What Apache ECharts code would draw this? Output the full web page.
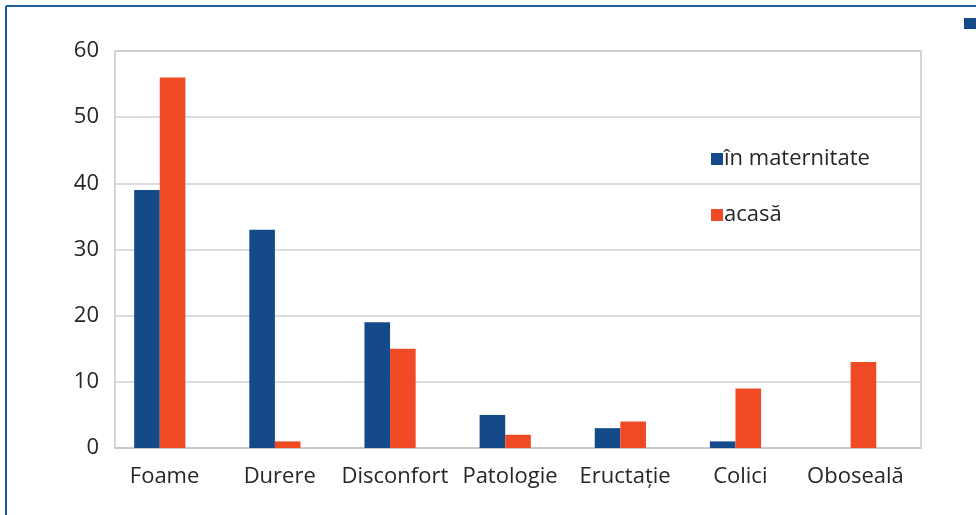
<!DOCTYPE html>
<html>
<head>
<meta charset="utf-8">
<script src="https://cdn.jsdelivr.net/npm/echarts@6/dist/echarts.min.js"></script>
<style>
  html, body { margin: 0; padding: 0; background: #fff; }
  #chart { width: 976px; height: 515px; }
</style>
</head>
<body>
<div id="chart"></div>
<script>
// Reasons reported, by setting
const categories = ['Foame', 'Durere', 'Disconfort', 'Patologie', 'Eructație', 'Colici', 'Oboseală'];
const inMaternitate = [39, 33, 19, 5, 3, 1, 0];
const acasa = [56, 1, 15, 2, 4, 9, 13];
// third series slot is present but carries no values
const emptySeries = [null, null, null, null, null, null, null];
const seriesNames = ['în maternitate', 'acasă'];
const yTicks = { min: 0, max: 60, interval: 10 };

const BLUE = '#154a8a';
const RED = '#f04a24';
const TEXT = '#262626';
const FONT = '"Open Sans", "Noto Sans", sans-serif';

const chart = echarts.init(document.getElementById('chart'), null, { renderer: 'canvas' });

const BAR_W = 25.6;

chart.setOption({
  animation: false,
  backgroundColor: '#fff',
  textStyle: { fontFamily: FONT },
  grid: { left: 115, right: 55, top: 51, bottom: 67, show: true, borderColor: '#c6c6c6', borderWidth: 1.5 },
  legend: {
    orient: 'vertical',
    left: 706, top: 143,
    itemWidth: 12, itemHeight: 12, itemGap: 34,
    icon: 'rect',
    textStyle: { fontFamily: FONT, fontSize: 22, color: TEXT, padding: [0, 0, 0, -4] },
    data: seriesNames
  },
  xAxis: {
    type: 'category',
    data: categories,
    axisLine: { show: true, lineStyle: { color: '#c6c6c6', width: 1.5 } },
    axisTick: { show: false },
    axisLabel: { fontFamily: FONT, fontSize: 22, color: TEXT, margin: 18, interval: 0, padding: [0, 16, 0, 0] }
  },
  yAxis: {
    type: 'value',
    min: yTicks.min, max: yTicks.max, interval: yTicks.interval,
    axisLine: { show: false },
    axisTick: { show: false },
    axisLabel: { fontFamily: FONT, fontSize: 22, color: TEXT, margin: 16 },
    splitLine: { lineStyle: { color: '#d0d0d0', width: 1.5 } }
  },
  series: [
    {
      name: seriesNames[0], type: 'bar', data: inMaternitate,
      barWidth: BAR_W, barGap: '0%',
      itemStyle: { color: BLUE }
    },
    {
      name: seriesNames[1], type: 'bar', data: acasa,
      barWidth: BAR_W, barGap: '0%',
      itemStyle: { color: RED }
    },
    {
      name: 'serie3', type: 'bar', data: emptySeries,
      barWidth: BAR_W, barGap: '0%',
      itemStyle: { color: BLUE }
    }
  ],
  graphic: [
    // outer frame: left and top rules
    { type: 'line', shape: { x1: 6, y1: 6, x2: 976, y2: 6 }, style: { stroke: '#1f5aa0', lineWidth: 2 } },
    { type: 'line', shape: { x1: 6, y1: 6, x2: 6, y2: 515 }, style: { stroke: '#1f5aa0', lineWidth: 2 } },
    // clipped legend marker at the top-right edge
    { type: 'rect', shape: { x: 964, y: 18, width: 12, height: 11 }, style: { fill: BLUE } }
  ]
});
</script>
</body>
</html>
